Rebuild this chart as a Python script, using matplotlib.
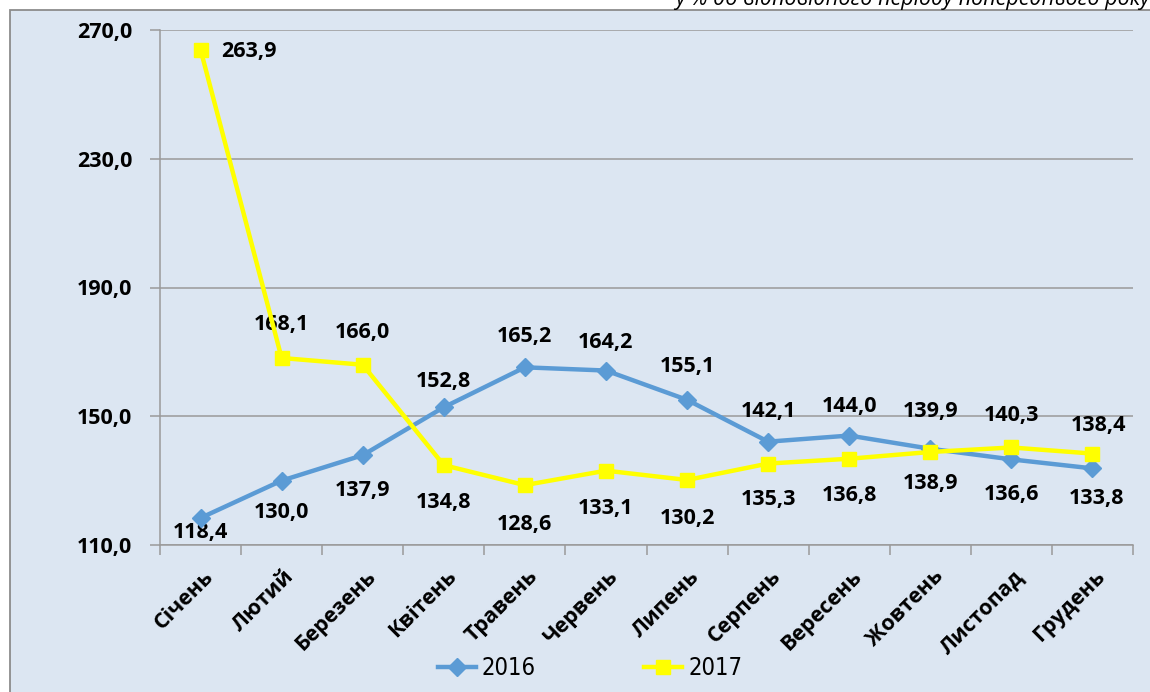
import matplotlib
matplotlib.use('Agg')
import matplotlib.pyplot as plt
from matplotlib.patches import Rectangle
from matplotlib.transforms import ScaledTranslation, blended_transform_factory
from matplotlib.lines import Line2D

months = ['Січень', 'Лютий', 'Березень', 'Квітень', 'Травень', 'Червень',
          'Липень', 'Серпень', 'Вересень', 'Жовтень', 'Листопад', 'Грудень']
v2016 = [118.4, 130.0, 137.9, 152.8, 165.2, 164.2, 155.1, 142.1, 144.0, 139.9, 136.6, 133.8]
v2017 = [263.9, 168.1, 166.0, 134.8, 128.6, 133.1, 130.2, 135.3, 136.8, 138.9, 140.3, 138.4]
yticks = [110, 150, 190, 230, 270]
series_names = ['2016', '2017']
subtitle = 'у % до відповідного періоду попереднього року'

# label offsets in pixels (dx, dy), positive dy = up
off2016 = [(0, -15), (0, -32), (0, -35), (0, 26), (0, 31), (0, 28), (0, 33),
           (0, 30), (0, 29), (0, 37), (0, -35), (4, -30)]
off2017 = [(21, -2), (0, 33), (0, 32), (0, -37), (0, -39), (0, -38), (0, -39),
           (0, -36), (0, -37), (0, -32), (0, 32), (6, 28)]

W, H = 1150, 692
plt.rcParams['font.family'] = ['Open Sans', 'DejaVu Sans']

fig = plt.figure(figsize=(W / 100, H / 100), dpi=100)
fig.patch.set_facecolor('white')

bg = Rectangle((10 / W, -0.02), 1.0, 1 - 10 / H + 0.02, transform=fig.transFigure,
               facecolor='#DCE6F2', edgecolor='#8C8C8C', linewidth=1.3, zorder=-5)
fig.patches.append(bg)

fig.text(1150 / W, 1 - 5 / H, subtitle, ha='right', va='baseline',
         style='italic', fontsize=15.5, color='black')

ax = fig.add_axes([160 / W, 1 - 545 / H, (1133 - 160) / W, (545 - 30) / H])
ax.set_facecolor('none')
ax.set_zorder(2)

x = list(range(len(months)))
blue = '#5B9BD5'
yellow = '#FFFF00'
ax.plot(x, v2016, color=blue, lw=3.2, marker='D', markersize=9,
        markeredgecolor=blue, markerfacecolor=blue, zorder=4, clip_on=False)
ax.plot(x, v2017, color=yellow, lw=3.2, marker='s', markersize=10.5,
        markeredgecolor=yellow, markerfacecolor=yellow, zorder=5, clip_on=False)

lbl_fs = 15.5
for xi, v, (dx, dy) in zip(x, v2016, off2016):
    ax.annotate(f'{v:.1f}'.replace('.', ','), (xi, v), xytext=(dx, dy),
                textcoords='offset pixels', ha='center', va='center',
                fontsize=lbl_fs, fontweight='bold', zorder=3)
for i, (xi, v, (dx, dy)) in enumerate(zip(x, v2017, off2017)):
    ax.annotate(f'{v:.1f}'.replace('.', ','), (xi, v), xytext=(dx, dy),
                textcoords='offset pixels', ha='left' if i == 0 else 'center',
                va='center', fontsize=lbl_fs, fontweight='bold', zorder=3)

ax.set_xlim(-0.5, len(months) - 0.5)
ax.set_ylim(yticks[0], yticks[-1])
ax.set_yticks(yticks)
ax.set_yticklabels([f'{t:.1f}'.replace('.', ',') for t in yticks],
                   fontsize=lbl_fs, fontweight='bold')
ax.yaxis.grid(True, color='#9A9A9A', lw=1.1)
ax.set_axisbelow(True)

ax.set_xticks(x)
ax.set_xticklabels([])
ax.set_xticks([i - 0.5 for i in range(len(months) + 1)], minor=True)
ax.tick_params(axis='x', which='major', length=0)
ax.tick_params(axis='x', which='minor', length=7, color='#9A9A9A', width=1.1, direction='out')
ax.tick_params(axis='y', length=7, color='#9A9A9A', width=1.1, direction='out', pad=13)

trans = blended_transform_factory(ax.transData, ax.transAxes) + \
    ScaledTranslation(9.5 / 100, -28.5 / 100, fig.dpi_scale_trans)
for xi, m in zip(x, months):
    ax.text(xi, 0, m, transform=trans, rotation=45, rotation_mode='anchor',
            ha='right', va='center', fontsize=15.5, fontweight='bold')

for s in ['top', 'right']:
    ax.spines[s].set_visible(False)
for s in ['left', 'bottom']:
    ax.spines[s].set_color('#9A9A9A')
    ax.spines[s].set_linewidth(1.1)

handles = [Line2D([], [], color=blue, lw=3.2, marker='D', markersize=9),
           Line2D([], [], color=yellow, lw=3.2, marker='s', markersize=10.5)]
fig.legend(handles, series_names, loc='center', ncol=2,
           bbox_to_anchor=(590 / W, 1 - 668 / H), frameon=False,
           prop={'family': 'DejaVu Sans', 'stretch': 'condensed', 'size': 17},
           handlelength=1.6, handletextpad=0.25, columnspacing=4.6)

fig.savefig('out.png', dpi=100)
